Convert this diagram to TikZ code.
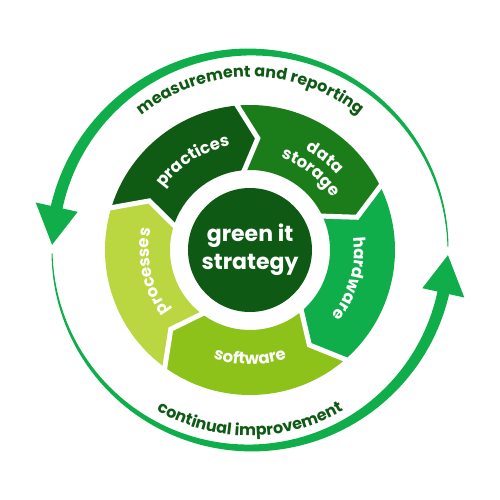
\documentclass[tikz,border=0pt]{standalone}
\usepackage{fontspec}
\setmainfont{Poppins}
\usetikzlibrary{decorations.text}
\definecolor{cPract}{HTML}{0F5B14}
\definecolor{cData}{HTML}{1B7D1A}
\definecolor{cHard}{HTML}{0FAE4B}
\definecolor{cSoft}{HTML}{8DC21A}
\definecolor{cProc}{HTML}{BAD640}
\definecolor{cArrow}{HTML}{10AD4B}
\definecolor{cCenter}{HTML}{0E5A14}
\newcommand{\ringseg}[3]{%
  \fill[#1] (#2:145pt) arc[start angle=#2, end angle=#3, radius=145pt]
    -- (#3-10:112pt) -- (#3:80pt) arc[start angle=#3, end angle=#2, radius=80pt]
    -- (#2-10:112pt) -- cycle;}
\newcommand{\ringgap}[1]{%
  \draw[white, line width=5pt, line join=miter] (#1:150pt) -- (#1-10:112pt) -- (#1:75pt);}
\newcommand{\arclabel}[5]{% radius, start, end, size, text
  \path[decorate, decoration={text along path, text align=center,
    text={|\color{white}\bfseries\fontsize{#4pt}{#4pt}\selectfont|#5}}]
    (#2:#1pt) arc[start angle=#2, end angle=#3, radius=#1pt];}
\newcommand{\outlabel}[4]{% radius, start, end, text
  \path[decorate, decoration={text along path, text align=center,
    text={|\color{cCenter}\bfseries\fontsize{16pt}{16pt}\selectfont|#4}}]
    (#2:#1pt) arc[start angle=#2, end angle=#3, radius=#1pt];}
\begin{document}
\begin{tikzpicture}[x=1pt,y=1pt,
  centerbox/.style={circle, fill=cCenter, minimum size=124pt, inner sep=0pt,
    text=white, font=\bfseries\fontsize{22pt}{28pt}\selectfont, align=center}]
\useasboundingbox (-250,-250) rectangle (250,250);
% ring segments
\ringseg{cPract}{164}{96}
\ringseg{cData}{96}{27}
\ringseg{cHard}{27}{-48}
\ringseg{cSoft}{-48}{-125}
\ringseg{cProc}{235}{164}
\ringgap{96}
\ringgap{27}
\ringgap{-48}
\ringgap{-125}
\ringgap{164}
% centre
\node[centerbox] (center) at (0,0) {green it\\strategy};
% segment labels
\arclabel{106}{160}{85}{16.5}{practices}
\arclabel{115}{85}{17}{16.5}{data}
\arclabel{97}{90}{14}{16.5}{storage}
\arclabel{104.5}{25}{-57}{16.5}{hardware}
\arclabel{114.5}{-130}{-50}{16.5}{software}
\arclabel{101}{232}{153}{16.5}{processes}
% outer arrows
\fill[cArrow] plot[domain=1:168, samples=90, variable=\t]
  ({(198+(0.5+5.5*(\t-1)/167))*cos(\t)}, {(198+(0.5+5.5*(\t-1)/167))*sin(\t)})
  -- plot[domain=168:1, samples=90, variable=\t]
  ({(198-(0.5+5.5*(\t-1)/167))*cos(\t)}, {(198-(0.5+5.5*(\t-1)/167))*sin(\t)}) -- cycle;
\fill[cArrow] (167.5:176.5pt) -- (178.5:198pt) -- (167.5:219.5pt) -- cycle;
\fill[cArrow] plot[domain=181:348, samples=90, variable=\t]
  ({(198+(0.5+5.5*(\t-181)/167))*cos(\t)}, {(198+(0.5+5.5*(\t-181)/167))*sin(\t)})
  -- plot[domain=348:181, samples=90, variable=\t]
  ({(198-(0.5+5.5*(\t-181)/167))*cos(\t)}, {(198-(0.5+5.5*(\t-181)/167))*sin(\t)}) -- cycle;
\fill[cArrow] (347.5:176.5pt) -- (358.5:198pt) -- (347.5:219.5pt) -- cycle;
% outer labels
\outlabel{173}{145}{35}{measurement and reporting}
\outlabel{186}{215}{325}{continual improvement}
\end{tikzpicture}
\end{document}
